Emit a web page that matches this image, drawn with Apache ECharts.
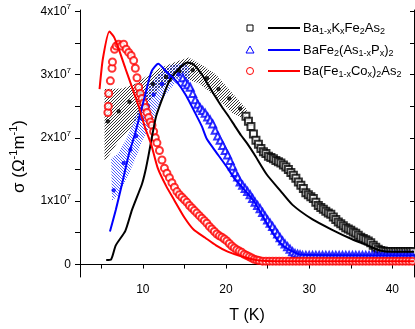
<!DOCTYPE html>
<html>
<head>
<meta charset="utf-8">
<script src="https://cdn.jsdelivr.net/npm/echarts@6/dist/echarts.min.js"></script>
<style>
html, body { margin: 0; padding: 0; background: #fff; }
#main { width: 415px; height: 329px; }
</style>
</head>
<body>
<div id="main"></div>
<script>
// axis ticks (sigma in units of 1e7)
const xTicks = [5, 10, 15, 20, 25, 30, 35, 40];
const xLabels = [10, 20, 30, 40];
const yTicks = [0, 0.5, 1, 1.5, 2, 2.5, 3, 3.5, 4];
const yLabels = [0, 1, 2, 3, 4];

// Ba1-xKxFe2As2 : solid line
const kLineT = [5.6, 6.2, 6.75, 7.9, 8.7, 9.9, 10.3, 10.7, 11.05, 11.6, 12.4, 13.2, 14.4, 15.4, 16.1, 17.1, 18.3, 19.5, 20.2, 21.0, 21.8, 22.6, 23.4, 24.9, 26.5, 28.0, 30.4, 32.7, 35.1, 37.0, 38.5, 40.0, 42.6];
const kLineS = [0.07, 0.08, 0.3, 0.53, 0.86, 1.27, 1.47, 1.73, 1.98, 2.34, 2.64, 2.9, 3.1, 3.19, 3.16, 3.0, 2.74, 2.49, 2.36, 2.2, 2.04, 1.9, 1.74, 1.42, 1.17, 0.94, 0.71, 0.55, 0.40, 0.3, 0.22, 0.2, 0.2];
// open squares
const kSqT = [22.4, 22.7, 23.0, 23.3, 23.6, 23.9, 24.2, 24.5, 24.8, 25.1, 25.4, 25.7, 26.0, 26.3, 26.6, 26.9, 27.2, 27.5, 27.8, 28.1, 28.4, 28.7, 29.0, 29.3, 29.6, 29.9, 30.2, 30.5, 30.8, 31.1, 31.4, 31.7, 32.0, 32.3, 32.6, 32.9, 33.2, 33.5, 33.8, 34.1, 34.4, 34.7, 35.0, 35.3, 35.6, 35.9, 36.2, 36.5, 36.8, 37.1, 37.4, 37.7, 38.0, 38.3, 38.6, 38.9, 39.2, 39.5, 39.8, 40.1, 40.4, 40.7, 41.0, 41.3, 41.6, 41.9, 42.2, 42.5];
const kSqS = [2.34, 2.26, 2.18, 2.06, 1.96, 1.9, 1.83, 1.78, 1.75, 1.71, 1.69, 1.67, 1.64, 1.62, 1.6, 1.57, 1.54, 1.5, 1.45, 1.41, 1.36, 1.3, 1.25, 1.2, 1.13, 1.1, 1.07, 1.04, 0.98, 0.93, 0.9, 0.87, 0.84, 0.81, 0.79, 0.75, 0.71, 0.67, 0.64, 0.61, 0.58, 0.56, 0.54, 0.51, 0.49, 0.46, 0.43, 0.41, 0.39, 0.37, 0.34, 0.3, 0.27, 0.24, 0.22, 0.21, 0.2, 0.2, 0.2, 0.2, 0.2, 0.2, 0.2, 0.2, 0.2, 0.2, 0.2, 0.2];
// hatched band + dots
const kBandUpT = [5.4, 7.5, 9.2, 10.5, 12.0, 13.9, 15.5, 16.8, 18.8, 20.8, 22.5];
const kBandUpS = [2.77, 2.78, 2.86, 2.98, 3.1, 3.2, 3.27, 3.18, 3.0, 2.7, 2.45];
const kBandLoT = [5.4, 7.0, 9.0, 10.5, 12.0, 14.4, 16.8, 18.8, 20.8, 22.5];
const kBandLoS = [1.62, 1.93, 2.23, 2.52, 2.77, 2.97, 2.86, 2.64, 2.39, 2.28];
const kDotT = [5.8, 7.1, 8.4, 9.7, 11.2, 12.8, 14.4, 16.0, 17.7, 19.1, 20.4, 21.7];
const kDotS = [2.26, 2.42, 2.57, 2.71, 2.85, 2.96, 3.05, 3.07, 2.94, 2.77, 2.62, 2.46];

// BaFe2(As1-xPx)2
const pLineT = [6.05, 6.75, 7.5, 8.3, 9.1, 10.3, 11.05, 11.85, 12.8, 14.0, 15.2, 16.3, 17.1, 17.7, 18.5, 20.2, 21.0, 22.2, 23.4, 24.9, 26.1, 27.0, 28.05, 29.0, 42.6];
const pLineS = [0.52, 0.86, 1.27, 1.73, 2.08, 2.69, 3.05, 3.17, 3.05, 2.9, 2.67, 2.39, 2.18, 1.98, 1.83, 1.52, 1.36, 1.18, 0.99, 0.65, 0.4, 0.28, 0.2, 0.15, 0.14];
const pTriT = [14.8, 15.1, 15.4, 15.7, 16.0, 16.3, 16.6, 16.9, 17.2, 17.5, 17.8, 18.1, 18.4, 18.7, 19.0, 19.3, 19.6, 19.9, 20.2, 20.5, 20.8, 21.1, 21.4, 21.7, 22.0, 22.3, 22.6, 22.9, 23.2, 23.5, 23.8, 24.1, 24.4, 24.7, 25.0, 25.3, 25.6, 25.9, 26.2, 26.5, 26.8, 27.1, 27.4, 27.7, 28.0, 28.3, 28.6, 28.9, 29.2, 29.6, 30.0, 30.4, 30.8, 31.2, 31.6, 32.0, 32.4, 32.8, 33.2, 33.6, 34.0, 34.4, 34.8, 35.2, 35.6, 36.0, 36.4, 36.8, 37.2, 37.6, 38.0, 38.4, 38.8, 39.2, 39.6, 40.0, 40.4, 40.8, 41.2, 41.6, 42.0, 42.4];
const pTriS = [2.95, 2.88, 2.84, 2.8, 2.7, 2.6, 2.53, 2.47, 2.43, 2.39, 2.33, 2.28, 2.22, 2.12, 2.03, 1.96, 1.88, 1.8, 1.73, 1.64, 1.55, 1.45, 1.38, 1.3, 1.25, 1.2, 1.15, 1.1, 1.04, 0.98, 0.93, 0.88, 0.82, 0.76, 0.7, 0.65, 0.6, 0.54, 0.48, 0.42, 0.37, 0.32, 0.28, 0.24, 0.2, 0.17, 0.16, 0.15, 0.14, 0.14, 0.14, 0.14, 0.14, 0.14, 0.14, 0.14, 0.14, 0.14, 0.14, 0.14, 0.14, 0.14, 0.14, 0.14, 0.14, 0.14, 0.14, 0.14, 0.14, 0.14, 0.14, 0.14, 0.14, 0.14, 0.14, 0.14, 0.14, 0.14, 0.14, 0.14, 0.14, 0.14];
const pBandUpT = [6.2, 7.0, 7.9, 8.6, 9.3, 9.9, 10.9, 11.8, 13.4, 15.0, 15.6];
const pBandUpS = [1.67, 1.75, 1.95, 2.15, 2.4, 2.58, 2.85, 3.0, 3.15, 3.18, 3.1];
const pBandLoT = [6.3, 7.0, 8.3, 9.3, 9.9, 11.05, 12.2, 13.8, 15.6];
const pBandLoS = [1.0, 1.09, 1.42, 1.73, 1.95, 2.23, 2.59, 2.85, 2.9];
const pDotT = [6.5, 7.7, 8.5, 9.2, 9.9, 10.6, 11.3, 12.3, 13.3, 14.3];
const pDotS = [1.17, 1.6, 1.81, 2.03, 2.3, 2.5, 2.68, 2.85, 2.95, 3.0];

// Ba(Fe1-xCox)2As2
const cLineT = [4.8, 5.2, 5.98, 6.5, 6.95, 7.9, 8.7, 9.5, 10.3, 11.0, 11.8, 12.8, 13.8, 15.0, 16.1, 17.5, 18.8, 20.2, 22.0, 24.0, 26.0, 42.6];
const cLineS = [2.77, 3.25, 3.68, 3.6, 3.46, 3.1, 2.8, 2.5, 2.15, 1.9, 1.52, 1.24, 1.01, 0.74, 0.55, 0.42, 0.3, 0.2, 0.12, 0.06, 0.05, 0.05];
const cCirT = [5.8, 5.85, 5.9, 6.1, 6.3, 6.35, 6.6, 6.8, 7.1, 7.4, 7.7, 8.0, 8.3, 8.6, 8.9, 9.1, 9.3, 9.5, 9.7, 9.9, 10.1, 10.3, 10.5, 10.7, 10.9, 11.1, 11.3, 11.5, 11.7, 12.0, 12.3, 12.6, 12.9, 13.2, 13.5, 13.8, 14.1, 14.4, 14.7, 15.0, 15.3, 15.6, 15.9, 16.2, 16.5, 16.8, 17.1, 17.4, 17.7, 18.0, 18.3, 18.6, 18.9, 19.2, 19.5, 19.8, 20.1, 20.4, 20.7, 21.0, 21.3, 21.6, 21.9, 22.2, 22.5, 22.8, 23.1, 23.4, 23.7, 24.0, 24.4, 24.8, 25.2, 25.6, 26.0, 26.4, 26.8, 27.2, 27.6, 28.0, 28.4, 28.8, 29.2, 29.6, 30.0, 30.4, 30.8, 31.2, 31.6, 32.0, 32.4, 32.8, 33.2, 33.6, 34.0, 34.4, 34.8, 35.2, 35.6, 36.0, 36.4, 36.8, 37.2, 37.6, 38.0, 38.4, 38.8, 39.2, 39.6, 40.0, 40.4, 40.8, 41.2, 41.6, 42.0, 42.4];
const cCirS = [2.4, 2.5, 2.7, 2.9, 3.1, 3.2, 3.4, 3.45, 3.48, 3.45, 3.48, 3.4, 3.35, 3.3, 3.22, 3.1, 2.95, 2.8, 2.7, 2.62, 2.55, 2.48, 2.4, 2.32, 2.25, 2.2, 2.1, 2.0, 1.92, 1.8, 1.65, 1.52, 1.44, 1.37, 1.29, 1.22, 1.15, 1.1, 1.06, 1.02, 0.98, 0.93, 0.89, 0.85, 0.81, 0.77, 0.73, 0.69, 0.65, 0.6, 0.56, 0.52, 0.48, 0.45, 0.43, 0.4, 0.37, 0.33, 0.29, 0.26, 0.23, 0.21, 0.19, 0.16, 0.14, 0.12, 0.1, 0.08, 0.07, 0.06, 0.05, 0.05, 0.05, 0.05, 0.05, 0.05, 0.05, 0.05, 0.05, 0.05, 0.05, 0.05, 0.05, 0.05, 0.05, 0.05, 0.05, 0.05, 0.05, 0.05, 0.05, 0.05, 0.05, 0.05, 0.05, 0.05, 0.05, 0.05, 0.05, 0.05, 0.05, 0.05, 0.05, 0.05, 0.05, 0.05, 0.05, 0.05, 0.05, 0.05, 0.05, 0.05, 0.05, 0.05, 0.05, 0.05];

const legendNames = ['{n|Ba}{s|1-x}{n|K}{s|x}{n|Fe}{s|2}{n|As}{s|2}',
                     '{n|BaFe}{s|2}{n|(As}{s|1-x}{n|P}{s|x}{n|)}{s|2}',
                     '{n|Ba(Fe}{s|1-x}{n|Co}{s|x}{n|)}{s|2}{n|As}{s|2}'];

const FONT = 'Arial, "Liberation Sans", sans-serif';

function pairs(t, s) {
    return t.map(function (v, i) { return [v, s[i]]; });
}

function hatch(color, dir) {
    let c = document.createElement('canvas');
    c.width = 3; c.height = 3;
    let g = c.getContext('2d');
    g.strokeStyle = color;
    g.lineWidth = 0.8;
    g.beginPath();
    if (dir > 0) {
        g.moveTo(-1, 4); g.lineTo(4, -1);
    } else {
        g.moveTo(-1, -1); g.lineTo(4, 4);
    }
    g.stroke();
    return c;
}

function band(upT, upS, loT, loS, pat) {
    return {
        type: 'custom',
        silent: true,
        z: 1,
        data: [[upT[0], upS[0]]],
        encode: { x: 0, y: 1 },
        renderItem: function (params, api) {
            let pts = [];
            for (let i = 0; i < upT.length; i++) pts.push(api.coord([upT[i], upS[i]]));
            for (let i = loT.length - 1; i >= 0; i--) pts.push(api.coord([loT[i], loS[i]]));
            return {
                type: 'polygon',
                shape: { points: pts },
                style: { fill: { image: pat, repeat: 'repeat' }, stroke: null }
            };
        }
    };
}

function lineSeries(t, s, color) {
    return {
        type: 'line', data: pairs(t, s), showSymbol: false, smooth: 0.2, z: 5,
        lineStyle: { color: color, width: 2 }, silent: true
    };
}

function markSeries(t, s, symbol, color, size, bw) {
    return {
        type: 'scatter', data: pairs(t, s), symbol: symbol, symbolSize: size, z: 3,
        itemStyle: { color: color, borderColor: color, borderWidth: bw || 1 }, silent: true
    };
}

let myChart = echarts.init(document.getElementById('main'));

let supRich = {
    n: { fontSize: 12, fontFamily: FONT, color: '#000', lineHeight: 16 },
    s: { fontSize: 8, fontFamily: FONT, color: '#000', lineHeight: 8, verticalAlign: 'top' }
};

// legend drawn as graphic rows
let legendColors = ['#000000', '#0000ff', '#ff0000'];
let legendRowsY = [28, 50, 71];
let legendMarks = [
    { type: 'rect', shape: { x: -3, y: -3, width: 6, height: 6 } },
    { type: 'polygon', shape: { points: [[0, -4], [4, 3], [-4, 3]] } },
    { type: 'circle', shape: { cx: 0, cy: 0, r: 3.5 } }
];
let graphics = [];
for (let i = 0; i < 3; i++) {
    let m = legendMarks[i];
    graphics.push({
        type: m.type, shape: m.shape, x: 250, y: legendRowsY[i],
        style: { fill: '#fff', stroke: legendColors[i], lineWidth: 1 }
    });
    graphics.push({
        type: 'line', shape: { x1: 268, y1: legendRowsY[i], x2: 300, y2: legendRowsY[i] },
        style: { stroke: legendColors[i], lineWidth: 2 }
    });
    graphics.push({
        type: 'text', x: 303, y: legendRowsY[i],
        style: {
            text: legendNames[i], verticalAlign: 'middle', align: 'left',
            rich: {
                n: { fontSize: 13, fontFamily: FONT, fill: '#000', lineHeight: 16 },
                s: { fontSize: 9, fontFamily: FONT, fill: '#000', lineHeight: 9, verticalAlign: 'bottom' }
            }
        }
    });
}

let option = {
    animation: false,
    backgroundColor: '#fff',
    grid: { left: 71.5, right: 1, top: 10, bottom: 43 },
    xAxis: [{
        type: 'value', min: 2.45, max: 42.6, position: 'bottom',
        name: 'T (K)', nameLocation: 'middle', nameGap: 31,
        nameTextStyle: { fontSize: 16, fontFamily: FONT, color: '#000' },
        axisLine: { lineStyle: { color: '#000', width: 1 } },
        axisTick: { show: true, length: 4, inside: false, customValues: xTicks, lineStyle: { color: '#000' } },
        axisLabel: { customValues: xLabels, margin: 7, fontSize: 12, fontFamily: FONT, color: '#000' },
        splitLine: { show: false }
    }, {
        type: 'value', min: 2.45, max: 42.6, position: 'top',
        axisLine: { lineStyle: { color: '#000', width: 1 } },
        axisTick: { show: true, length: 4, inside: true, customValues: xTicks, lineStyle: { color: '#000' } },
        axisLabel: { show: false },
        splitLine: { show: false }
    }],
    yAxis: [{
        type: 'value', min: -0.2, max: 4.02, position: 'left',
        name: '{n|σ (Ω}{s|-1}{n|m}{s|-1}{n|)}', nameLocation: 'middle', nameGap: 50,
        nameTextStyle: {
            padding: [0, 26, 0, 0],
            rich: {
                n: { fontSize: 17, fontFamily: FONT, color: '#000', lineHeight: 22 },
                s: { fontSize: 11, fontFamily: FONT, color: '#000', lineHeight: 11, verticalAlign: 'top' }
            }
        },
        axisLine: { show: true, lineStyle: { color: '#000', width: 1 } },
        axisTick: { show: true, length: 5, inside: false, customValues: yTicks, lineStyle: { color: '#000' } },
        axisLabel: {
            customValues: yLabels, margin: 9,
            formatter: function (v) { return v === 0 ? '{n|0}' : '{n|' + v + 'x10}{s|7}'; },
            rich: supRich
        },
        splitLine: { show: false }
    }, {
        type: 'value', min: -0.2, max: 4.02, position: 'right',
        axisLine: { show: true, lineStyle: { color: '#000', width: 1 } },
        axisTick: { show: true, length: 4, inside: true, customValues: yTicks, lineStyle: { color: '#000' } },
        axisLabel: { show: false },
        splitLine: { show: false }
    }],
    graphic: graphics,
    series: [
        band(kBandUpT, kBandUpS, kBandLoT, kBandLoS, hatch('#000', 1)),
        band(pBandUpT, pBandUpS, pBandLoT, pBandLoS, hatch('#2233ff', -1)),
        markSeries(kDotT, kDotS, 'circle', '#000', 3.5),
        markSeries(pDotT, pDotS, 'circle', '#0000ff', 3.5),
        markSeries(kSqT, kSqS, 'emptyRect', '#000', 7, 1.8),
        markSeries(pTriT, pTriS, 'emptyTriangle', '#0000ff', 7, 1.3),
        markSeries(cCirT, cCirS, 'emptyCircle', '#ff0000', 7, 1.2),
        lineSeries(kLineT, kLineS, '#000'),
        lineSeries(pLineT, pLineS, '#0000ff'),
        lineSeries(cLineT, cLineS, '#ff0000')
    ]
};

myChart.setOption(option);
</script>
</body>
</html>
